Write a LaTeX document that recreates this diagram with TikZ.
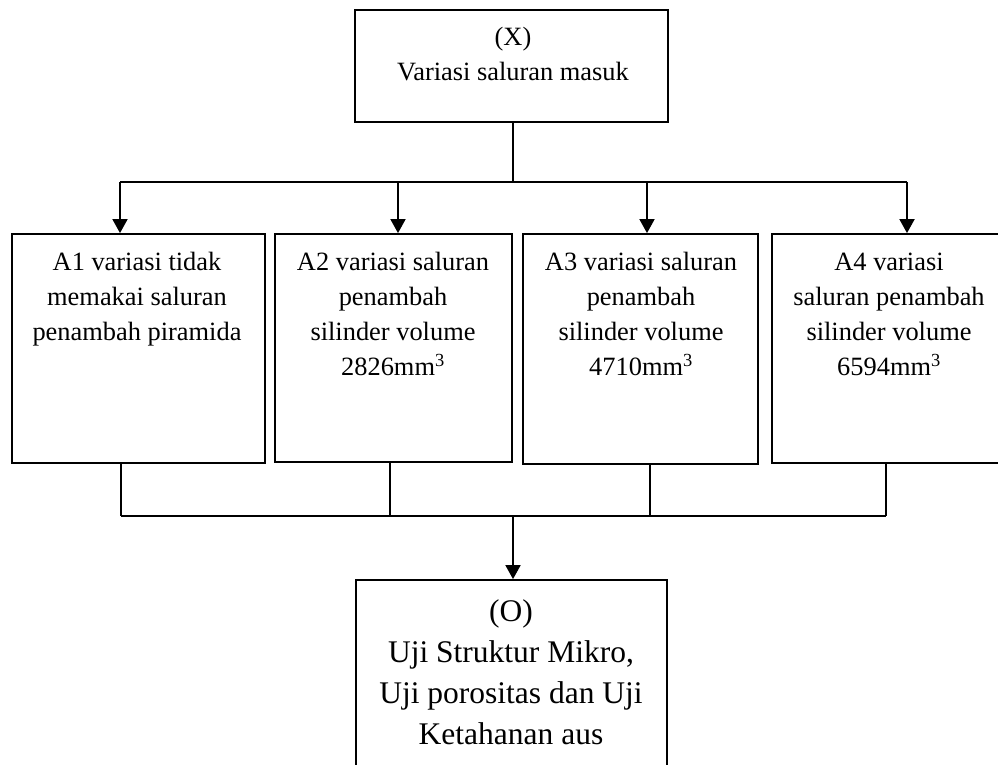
\documentclass[tikz,border=0pt]{standalone}
\usepackage{fontspec}
\setmainfont{Liberation Serif}
\usetikzlibrary{arrows.meta}
\tikzset{
  box/.style={draw, line width=1.8pt, rectangle, inner sep=0pt},
  txt/.style={align=center, inner sep=0pt, font=\fontsize{26.4}{35}\selectfont},
  bigtxt/.style={align=center, inner sep=0pt, font=\fontsize{31.5}{41}\selectfont},
  conn/.style={line width=1.8pt},
  arr/.style={line width=1.8pt, -{Triangle[length=14pt,width=15pt]}}
}
\begin{document}
\begin{tikzpicture}[x=1pt,y=-1pt]
\clip (0,0) rectangle (998,765);
\fill[white] (0,0) rectangle (998,765);
% boxes
\node[box, minimum width=313pt, minimum height=112pt] (x) at (511.5,66) {};
\node[box, minimum width=253pt, minimum height=229pt] (a1) at (138.5,348.5) {};
\node[box, minimum width=237pt, minimum height=228pt] (a2) at (393.5,348) {};
\node[box, minimum width=235pt, minimum height=230pt] (a3) at (640.5,349) {};
\node[box, minimum width=234pt, minimum height=229pt] (a4) at (889,348.5) {};
\node[box, minimum width=311pt, minimum height=240pt] (o) at (511.5,700) {};
% texts
\node[txt, anchor=north] (xt) at (513,20.5) {\strut(X)\\Variasi saluran masuk};
\node[txt, anchor=north] (a1t) at (137,245.5) {\strut A1 variasi tidak\\memakai saluran\\penambah piramida};
\node[txt, anchor=north] (a2t) at (393,245.5) {\strut A2 variasi saluran\\penambah\\silinder volume\\2826mm\textsuperscript{3}};
\node[txt, anchor=north] (a3t) at (641,245.5) {\strut A3 variasi saluran\\penambah\\silinder volume\\4710mm\textsuperscript{3}};
\node[txt, anchor=north] (a4t) at (889,245.5) {\strut A4 variasi\\saluran penambah\\silinder volume\\6594mm\textsuperscript{3}};
\node[bigtxt, anchor=north] (ot) at (511,593) {\strut(O)\\Uji Struktur Mikro,\\Uji porositas dan Uji\\Ketahanan aus};
% top connectors
\coordinate (hub) at (513,182);
\coordinate (h1) at (120,182);
\coordinate (h2) at (398,182);
\coordinate (h3) at (647,182);
\coordinate (h4) at (907,182);
\draw[conn] (hub |- x.south) -- (hub);
\draw[conn] (h1) -- (h4);
\draw[arr] (h1) -- (h1 |- a1.north);
\draw[arr] (h2) -- (h2 |- a2.north);
\draw[arr] (h3) -- (h3 |- a3.north);
\draw[arr] (h4) -- (h4 |- a4.north);
% bottom connectors
\coordinate (b1) at (121,516);
\coordinate (b2) at (390,516);
\coordinate (b3) at (650,516);
\coordinate (b4) at (886,516);
\coordinate (bo) at (513,516);
\draw[conn] (b1 |- a1.south) -- (b1);
\draw[conn] (b2 |- a2.south) -- (b2);
\draw[conn] (b3 |- a3.south) -- (b3);
\draw[conn] (b4 |- a4.south) -- (b4);
\draw[conn] (b1) -- (b4);
\draw[arr] (bo) -- (bo |- o.north);
\end{tikzpicture}
\end{document}
